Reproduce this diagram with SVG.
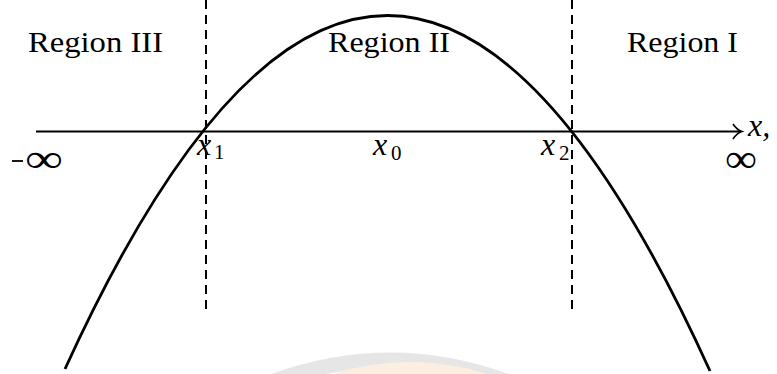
<svg xmlns="http://www.w3.org/2000/svg" width="777" height="374" viewBox="0 0 777 374">
<style>
.reg{font-family:"Liberation Serif","Times New Roman",serif;font-size:29px;fill:#000}
.var{font-family:"Liberation Serif","Times New Roman",serif;font-style:italic;font-size:32px;fill:#000}
.sub{font-family:"Liberation Serif","Times New Roman",serif;font-size:21px;fill:#000}
.inf{font-family:"Liberation Serif","Times New Roman",serif;font-size:40px;fill:#000}
.dash{stroke:#000;stroke-width:2;stroke-dasharray:9 6;fill:none}
</style>
<rect width="777" height="374" fill="#fff"/>
<g id="watermark">
<path d="M230 400 Q390 320 550 400" fill="none" stroke="#e6e6e6" stroke-width="15"/>
<path d="M300 395 Q410 345 520 395" fill="none" stroke="#fdeee2" stroke-width="16"/>
</g>
<g id="connectors">
<line x1="36" y1="131.5" x2="741" y2="131.5" stroke="#000" stroke-width="1.8"/>
<path d="M733 124 Q737 130 742 131.5 Q737 133 733 139" fill="none" stroke="#000" stroke-width="1.6"/>
<line class="dash" x1="206" y1="0" x2="206" y2="310"/>
<line class="dash" x1="572" y1="0" x2="572" y2="310"/>
<path d="M65 369 Q388 -339 710 371" fill="none" stroke="#000" stroke-width="2.8"/>
</g>
<g id="region3"><text class="reg" x="28" y="52" textLength="135" lengthAdjust="spacingAndGlyphs">Region III</text></g>
<g id="region2"><text class="reg" x="328" y="52" textLength="122" lengthAdjust="spacingAndGlyphs">Region II</text></g>
<g id="region1"><text class="reg" x="627" y="52" textLength="111" lengthAdjust="spacingAndGlyphs">Region I</text></g>
<g id="x1"><text class="var" x="197" y="155">x</text><text class="sub" x="214" y="159">1</text></g>
<g id="x0"><text class="var" x="373" y="155">x</text><text class="sub" x="391" y="160">0</text></g>
<g id="x2"><text class="var" x="541" y="155">x</text><text class="sub" x="559" y="160">2</text></g>
<g id="xcomma"><text class="var" x="748" y="136">x,</text></g>
<g id="neginf"><line x1="12" y1="161" x2="23" y2="161" stroke="#000" stroke-width="1.8"/><text class="inf" x="25" y="172" textLength="38" lengthAdjust="spacingAndGlyphs">∞</text></g>
<g id="posinf"><text class="inf" x="725" y="172" textLength="32" lengthAdjust="spacingAndGlyphs">∞</text></g>
</svg>
